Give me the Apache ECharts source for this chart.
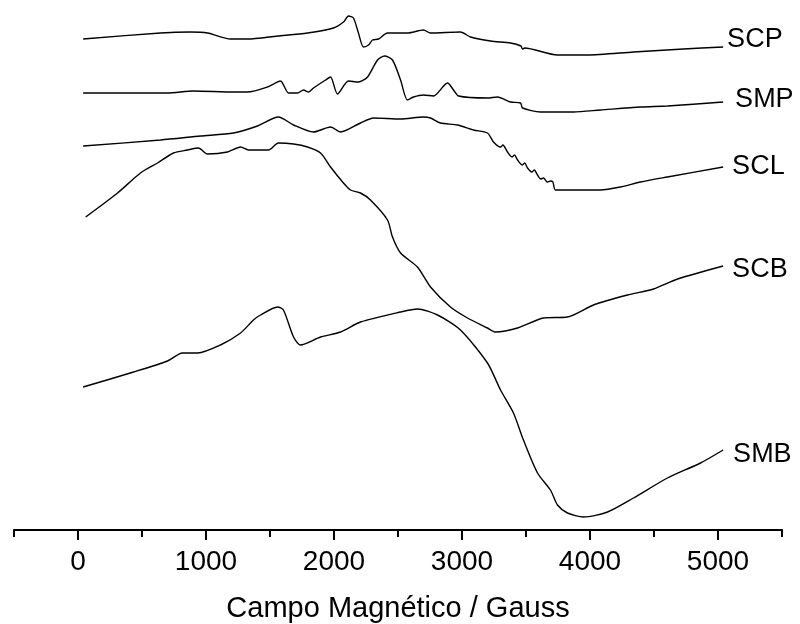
<!DOCTYPE html>
<html>
<head>
<meta charset="utf-8">
<script src="https://cdn.jsdelivr.net/npm/echarts@6/dist/echarts.min.js"></script>
<style>
  html, body { margin: 0; background: #fff; }
  #chart { width: 800px; height: 624px; }
</style>
</head>
<body>
<div id="chart"></div>
<script>
  // field (Gauss), signal (arbitrary units, stacked offsets)
  const majorTicks = [0, 1000, 2000, 3000, 4000, 5000];
  const minorTicks = [-500, 500, 1500, 2500, 3500, 4500, 5500];

  const scp = [
    [40, 491], [645, 497], [879, 498], [1012, 497], [1191, 491], [1324, 491],
    [1559, 494], [1793, 497], [1996, 502], [2074, 508], [2113, 514], [2152, 512],
    [2191, 497], [2230, 483], [2270, 485], [2301, 490], [2348, 491], [2418, 497],
    [2574, 497], [2699, 500], [2754, 497], [2988, 498], [3066, 493], [3223, 489],
    [3379, 487], [3460, 484], [3473, 481], [3490, 482], [3746, 475], [3980, 475],
    [4340, 478], [4730, 481], [5040, 483]
  ];

  const smp = [
    [40, 437], [699, 437], [902, 439], [1215, 438], [1324, 438], [1480, 443],
    [1582, 449], [1645, 437], [1715, 437], [1762, 440], [1801, 438], [1840, 442],
    [1934, 450], [1973, 453], [2027, 436], [2113, 449], [2191, 448], [2262, 453],
    [2340, 470], [2395, 474], [2457, 470], [2520, 450], [2574, 430], [2621, 433],
    [2699, 435], [2777, 434], [2887, 447], [2934, 440], [2973, 434], [3199, 432],
    [3277, 433], [3379, 428], [3457, 427], [3473, 422], [3613, 418], [3871, 418],
    [4082, 420], [4395, 423], [4605, 424], [5040, 428]
  ];

  const scl = [
    [40, 384], [645, 390], [957, 394], [1215, 397], [1402, 404], [1566, 413],
    [1684, 405], [1840, 398], [1973, 403], [2051, 398], [2207, 407], [2309, 412],
    [2520, 411], [2699, 413], [2754, 412], [2832, 407], [2965, 405], [3090, 400],
    [3199, 397], [3246, 388], [3300, 383], [3320, 385], [3355, 378], [3390, 373],
    [3410, 375], [3434, 370], [3470, 365], [3490, 367], [3512, 362], [3545, 358],
    [3565, 360], [3590, 355], [3615, 351], [3637, 352], [3665, 348], [3691, 349],
    [3710, 348], [3730, 340], [3871, 340], [4082, 340], [4238, 343], [4395, 348],
    [4605, 353], [5040, 363]
  ];

  const scb = [
    [60, 313], [309, 337], [488, 357], [621, 367], [746, 377], [855, 380],
    [941, 382], [1012, 376], [1168, 378], [1270, 383], [1332, 380], [1488, 380],
    [1566, 387], [1684, 386], [1793, 383], [1895, 377], [1973, 363], [2074, 347],
    [2129, 340], [2207, 337], [2285, 330], [2418, 310], [2457, 293], [2520, 277],
    [2652, 263], [2754, 243], [2910, 223], [3043, 212], [3199, 202], [3262, 198],
    [3434, 202], [3637, 212], [3824, 213], [4027, 225], [4293, 235], [4496, 241],
    [4684, 251], [5040, 264]
  ];

  const smb = [
    [40, 143], [434, 158], [699, 169], [816, 177], [934, 177], [1113, 185],
    [1270, 197], [1371, 210], [1426, 215], [1559, 223], [1605, 220], [1684, 193],
    [1738, 185], [1895, 193], [2051, 198], [2207, 208], [2520, 218], [2652, 221],
    [2809, 215], [2988, 200], [3199, 167], [3301, 140], [3402, 117], [3480, 90],
    [3590, 57], [3691, 40], [3746, 25], [3824, 17], [3949, 13], [4137, 18],
    [4340, 32], [4605, 52], [4863, 67], [5040, 80]
  ];

  const font = 'Liberation Sans, Arial, sans-serif';

  const curve = (name, data, dist, off) => ({
    name: name,
    type: 'line',
    data: data,
    showSymbol: false,
    smooth: 0.25,
    lineStyle: { color: '#000', width: 1.4 },
    endLabel: {
      show: true,
      formatter: '{a}',
      distance: dist,
      offset: off,
      color: '#000',
      fontSize: 27,
      fontFamily: font
    }
  });

  const chart = echarts.init(document.getElementById('chart'));
  chart.setOption({
    animation: false,
    backgroundColor: '#fff',
    grid: { left: 14, right: 18, top: 0, bottom: 94, outerBoundsMode: 'none' },
    xAxis: [
      {
        type: 'value',
        min: -500,
        max: 5500,
        position: 'bottom',
        splitLine: { show: false },
        axisLine: { lineStyle: { color: '#000', width: 2 } },
        axisTick: { customValues: majorTicks, length: 10, lineStyle: { color: '#000', width: 2 } },
        axisLabel: {
          customValues: majorTicks,
          formatter: v => String(v),
          margin: 18,
          color: '#000',
          fontSize: 28,
          fontFamily: font
        },
        name: 'Campo Magnético / Gauss',
        nameLocation: 'middle',
        nameGap: 64,
        nameTextStyle: { color: '#000', fontSize: 29, fontFamily: font }
      },
      {
        type: 'value',
        min: -500,
        max: 5500,
        position: 'bottom',
        splitLine: { show: false },
        axisLine: { show: false },
        axisTick: { customValues: minorTicks, length: 7, lineStyle: { color: '#000', width: 2 } },
        axisLabel: { show: false }
      }
    ],
    yAxis: { type: 'value', min: 0, max: 530, show: false },
    series: [
      curve('SCP', scp, 4, [0, -7]),
      curve('SMP', smp, 12, [0, -2]),
      curve('SCL', scl, 9, [0, 0]),
      curve('SCB', scb, 9, [0, 4]),
      curve('SMB', smb, 10, [0, 5])
    ]
  });
  window.addEventListener('resize', () => chart.resize());
</script>
</body>
</html>
